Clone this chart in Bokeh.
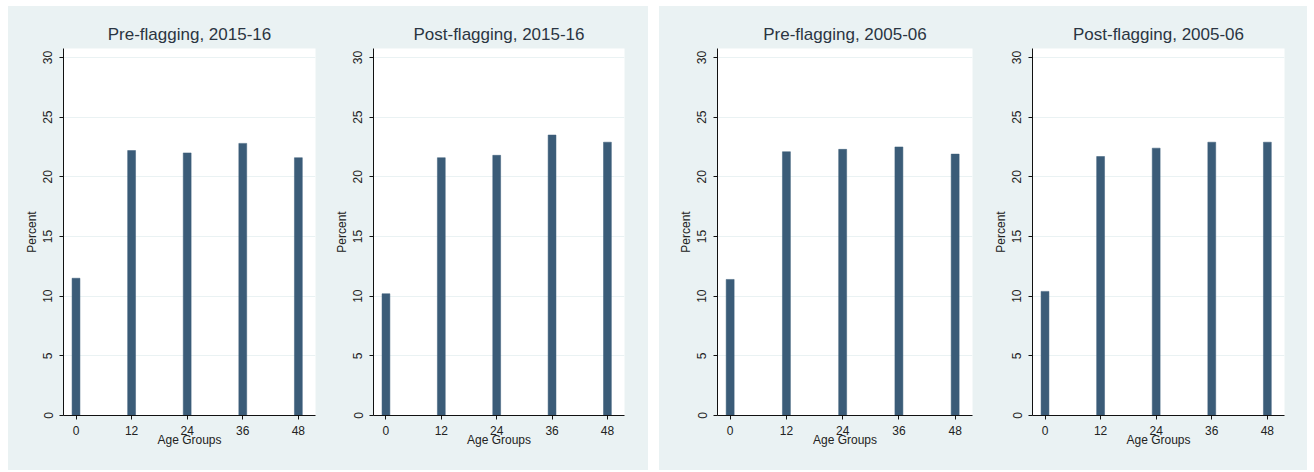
from bokeh.plotting import figure
from bokeh.layouts import row, column
from bokeh.models import Spacer, ColumnDataSource, FixedTicker, Range1d
from bokeh.embed import file_html
from bokeh.resources import INLINE

ages = [0, 12, 24, 36, 48]
pre_2015 = [11.5, 22.2, 22.0, 22.8, 21.6]
post_2015 = [10.2, 21.6, 21.8, 23.5, 22.9]
pre_2005 = [11.4, 22.1, 22.3, 22.5, 21.9]
post_2005 = [10.4, 21.7, 22.4, 22.9, 22.9]
titles = ["Pre-flagging, 2015-16", "Post-flagging, 2015-16",
          "Pre-flagging, 2005-06", "Post-flagging, 2005-06"]
y_ticks = [0, 5, 10, 15, 20, 25, 30]

BG = "#EAF2F3"
BAR = "#3b5c78"
FONT = "Liberation Sans"
TXT = "#222222"


def make(title, vals, width, left, right):
    p = figure(width=width, height=464, output_backend="svg", toolbar_location=None,
               x_range=Range1d(-2.7, 51.7), y_range=Range1d(0, 30.75),
               min_border_left=left, min_border_right=right,
               min_border_top=42, min_border_bottom=55,
               styles={"background-color": BG})
    p.border_fill_color = BG
    p.background_fill_color = "white"
    p.outline_line_color = None
    src = ColumnDataSource(dict(x=ages, top=vals))
    p.vbar(x="x", top="top", bottom=0, width=1.7, source=src,
           fill_color=BAR, line_color=BAR, line_width=0.5)
    p.title.text = title
    p.title.align = "center"
    p.title.text_font = FONT
    p.title.text_font_size = "17px"
    p.title.text_font_style = "normal"
    p.title.text_color = "#2a3542"
    p.xaxis.ticker = FixedTicker(ticks=ages)
    p.yaxis.ticker = FixedTicker(ticks=y_ticks)
    p.xaxis.axis_label = "Age Groups"
    p.yaxis.axis_label = "Percent"
    for ax in (p.xaxis, p.yaxis):
        ax.axis_label_text_font = FONT
        ax.axis_label_text_font_size = "12px"
        ax.axis_label_text_font_style = "normal"
        ax.axis_label_text_color = TXT
        ax.major_label_text_font = FONT
        ax.major_label_text_font_size = "12px"
        ax.major_label_text_color = TXT
        ax.major_tick_out = 4
        ax.major_tick_in = 0
        ax.minor_tick_out = 0
        ax.minor_tick_in = 0
        ax.axis_line_color = "#111111"
        ax.major_tick_line_color = "#111111"
    p.yaxis.major_label_orientation = "vertical"
    p.yaxis.major_label_standoff = 7
    p.yaxis.axis_label_standoff = 2
    p.xaxis.major_label_standoff = 6
    p.xaxis.axis_label_standoff = -5
    p.xgrid.grid_line_color = None
    p.ygrid.grid_line_color = BG
    p.ygrid.grid_line_width = 1
    return p


f1 = make(titles[0], pre_2015, 322, 55, 15)
f2 = make(titles[1], post_2015, 318, 43, 24)
f3 = make(titles[2], pre_2005, 331, 58, 18)
f4 = make(titles[3], post_2005, 317, 41, 23)

left_block = row(f1, f2, spacing=0, styles={"background-color": BG})
right_block = row(f3, f4, spacing=0, styles={"background-color": BG})

layout = column(Spacer(height=6, width=10),
                row(Spacer(width=8, height=464), left_block,
                    Spacer(width=11, height=464), right_block, spacing=0),
                spacing=0)
open("out.html", "w").write(file_html(layout, INLINE))
